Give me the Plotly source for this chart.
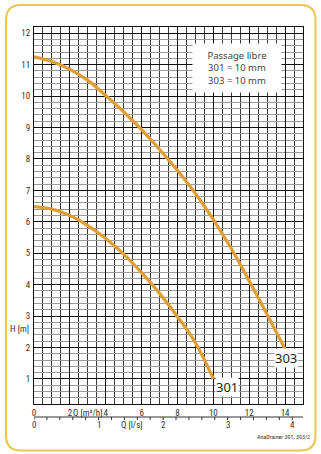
import plotly.graph_objects as go

# ---- data ----
q_303 = [0, 1, 2, 3, 4, 5, 6, 7, 8, 9, 10, 11, 12, 13, 14]
h_303 = [11.25, 11.1, 10.85, 10.5, 10.02, 9.5, 8.93, 8.3, 7.63, 6.9, 6.07, 5.15, 4.12, 3.05, 1.95]
q_301 = [0, 1, 2, 3, 4, 5, 6, 7, 8, 9, 10]
h_301 = [6.48, 6.4, 6.2, 5.88, 5.47, 4.97, 4.38, 3.72, 2.98, 2.15, 1.0]
ls_labels = [0, 1, 2, 3, 4]
ls_minor = [i * 0.2 for i in range(21)]
M3H_PER_LS = 3.6
legend_lines = ["Passage libre", "301 = 10 mm", "303 = 10 mm"]

W, H = 321, 454
ML, MR, MT, MB = 34, 18, 27, 50
PW, PH = W - ML - MR, H - MT - MB


def px_x(px):
    return (px - ML) / PW


def px_y(py):
    return 1 - (py - MT) / PH


CURVE = "#E09E36"
TXT = "#333333"
FONT = "Liberation Sans Narrow, Roboto Condensed, Noto Sans, sans-serif"

fig = go.Figure()
fig.add_trace(go.Scatter(x=q_303, y=h_303, mode="lines", line=dict(color=CURVE, width=3.3, shape="spline"),
                         hoverinfo="skip"))
fig.add_trace(go.Scatter(x=q_301, y=h_301, mode="lines", line=dict(color=CURVE, width=3.3, shape="spline"),
                         hoverinfo="skip"))

shapes = []
# rounded yellow frame
x0, x1 = px_x(6), px_x(315.5)
y0, y1 = px_y(450.5), px_y(5)
rx, ry = 15 / PW, 15 / PH
path = (f"M {x0+rx},{y1} L {x1-rx},{y1} Q {x1},{y1} {x1},{y1-ry} L {x1},{y0+ry} "
        f"Q {x1},{y0} {x1-rx},{y0} L {x0+rx},{y0} Q {x0},{y0} {x0},{y0+ry} "
        f"L {x0},{y1-ry} Q {x0},{y1} {x0+rx},{y1} Z")
shapes.append(dict(type="path", path=path, xref="paper", yref="paper",
                   line=dict(color="#EDC64C", width=2), layer="below"))

# secondary l/s axis
ax_y = px_y(417)
shapes.append(dict(type="line", xref="x", yref="paper", x0=0, x1=15, y0=ax_y, y1=ax_y,
                   line=dict(color="#333", width=1)))
for v in ls_minor:
    shapes.append(dict(type="line", xref="x", yref="paper", x0=v * M3H_PER_LS, x1=v * M3H_PER_LS,
                       y0=ax_y, y1=px_y(420), line=dict(color="#333", width=1)))


def ann(x, y, text, xref, yref, size, color=TXT, family=FONT, xanchor="center", **kw):
    return dict(x=x, y=y, xref=xref, yref=yref, text=text, showarrow=False,
                xanchor=xanchor, yanchor="middle",
                font=dict(size=size, color=color, family=family), **kw)


annotations = []
for v in ls_labels:
    annotations.append(ann(v * M3H_PER_LS, px_y(425), str(v), "x", "paper", 9))
annotations.append(ann(5.45, px_y(424.5), "Q [l/s]", "x", "paper", 9))
annotations.append(ann(3.0, px_y(412.5), "Q [m³/h]", "x", "paper", 9))
annotations.append(ann(px_x(19.5), 2.6, "H [m]", "paper", "y", 9))
annotations.append(ann(px_x(311), px_y(436), "AnaDrainer 301, 303/2", "paper", "paper", 6,
                       xanchor="right", borderpad=0))
# curve labels
annotations.append(ann(10.75, 0.73, "301", "x", "y", 13, color="#222", family="Noto Sans",
                       bgcolor="white", borderpad=0))
annotations.append(ann(14.05, 1.67, "303", "x", "y", 13, color="#222", family="Noto Sans",
                       bgcolor="white", borderpad=0))
# legend box
annotations.append(ann(11.3, 10.91, "<br>".join(legend_lines), "x", "y", 9.5, color="#444",
                       family="Noto Sans", bgcolor="white", width=86, height=46, align="center"))

fig.update_layout(
    width=W, height=H, margin=dict(l=ML, r=MR, t=MT, b=MB),
    paper_bgcolor="white", plot_bgcolor="white", showlegend=False,
    shapes=shapes, annotations=annotations,
    xaxis=dict(range=[0, 15], tick0=0, dtick=2, showgrid=True, gridcolor="#111", gridwidth=1.3,
               minor=dict(tick0=0, dtick=0.5, showgrid=True, gridcolor="#3a3a3a", gridwidth=0.8),
               showline=True, linecolor="#111", linewidth=1, mirror=True, zeroline=False,
               ticks="", tickfont=dict(size=9, color=TXT, family=FONT), fixedrange=True),
    yaxis=dict(range=[0.2, 12.2], tick0=0, dtick=1, showgrid=True, gridcolor="#111", gridwidth=1.3,
               minor=dict(tick0=0, dtick=0.2, showgrid=True, gridcolor="#9a9a9a", gridwidth=1),
               showline=True, linecolor="#111", linewidth=1, mirror=True, zeroline=False,
               ticks="", ticklabelstandoff=1, tickfont=dict(size=9, color=TXT, family=FONT), fixedrange=True),
)

fig.write_html("out.html")
